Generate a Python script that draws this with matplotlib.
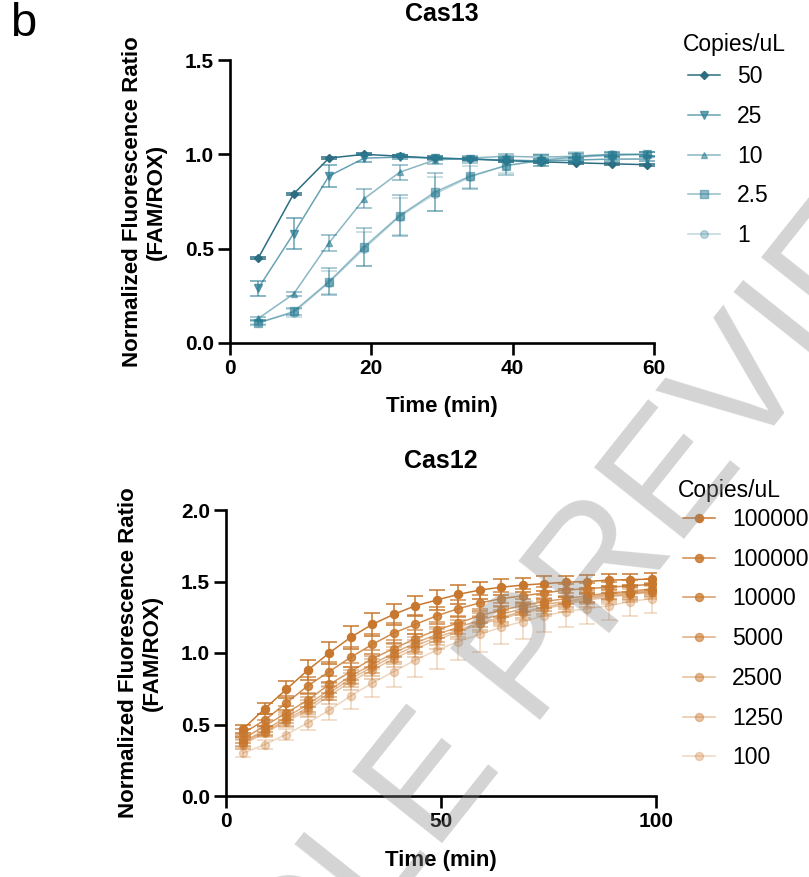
import numpy as np
import matplotlib.pyplot as plt

plt.rcParams['font.family'] = ['Liberation Sans', 'DejaVu Sans']

# Cas13 data
t13 = [4, 9, 14, 19, 24, 29, 34, 39, 44, 49, 54, 59]
labels13 = ['50', '25', '10', '2.5', '1']
y13_50 = [0.45, 0.79, 0.98, 1.00, 0.99, 0.98, 0.975, 0.967, 0.96, 0.955, 0.95, 0.945]
y13_25 = [0.29, 0.58, 0.885, 0.98, 0.985, 0.98, 0.975, 0.97, 0.965, 0.97, 0.975, 0.975]
y13_10 = [0.13, 0.26, 0.53, 0.765, 0.905, 0.97, 0.98, 0.99, 0.985, 0.99, 1.0, 1.0]
y13_2p5 = [0.105, 0.167, 0.325, 0.51, 0.675, 0.80, 0.885, 0.94, 0.967, 0.985, 0.995, 1.0]
y13_1 = [0.11, 0.16, 0.32, 0.50, 0.67, 0.79, 0.88, 0.94, 0.97, 0.99, 1.0, 1.0]
e13_50 = [0.005] * 12
e13_25 = [0.04, 0.08, 0.06, 0.02, 0.01, 0.01, 0.01, 0.01, 0.01, 0.01, 0.01, 0.01]
e13_10 = [0.01, 0.01, 0.04, 0.05, 0.04, 0.02, 0.01, 0.01, 0.01, 0.01, 0.01, 0.01]
e13_2p5 = [0.01, 0.02, 0.07, 0.10, 0.11, 0.10, 0.07, 0.05, 0.03, 0.02, 0.01, 0.01]
e13_1 = [0.01, 0.02, 0.06, 0.09, 0.10, 0.09, 0.06, 0.04, 0.03, 0.02, 0.01, 0.01]

# Cas12 data
t12 = [4, 9, 14, 19, 24, 29, 34, 39, 44, 49, 54, 59, 64, 69, 74, 79, 84, 89, 94, 99]
labels12 = ['100000', '100000', '10000', '5000', '2500', '1250', '100']
y12_a = [0.47, 0.61, 0.745, 0.88, 1.00, 1.11, 1.20, 1.27, 1.33, 1.37, 1.41, 1.44, 1.46, 1.475, 1.485, 1.495, 1.50, 1.51, 1.513, 1.517]
y12_b = [0.44, 0.53, 0.65, 0.77, 0.87, 0.97, 1.06, 1.14, 1.20, 1.26, 1.31, 1.35, 1.38, 1.40, 1.42, 1.44, 1.45, 1.46, 1.47, 1.48]
y12_c = [0.40, 0.49, 0.58, 0.67, 0.78, 0.87, 0.96, 1.03, 1.10, 1.16, 1.21, 1.26, 1.30, 1.33, 1.36, 1.38, 1.40, 1.42, 1.43, 1.45]
y12_d = [0.38, 0.46, 0.55, 0.64, 0.74, 0.84, 0.92, 1.00, 1.07, 1.13, 1.18, 1.23, 1.27, 1.31, 1.34, 1.36, 1.39, 1.41, 1.42, 1.44]
y12_e = [0.37, 0.45, 0.53, 0.62, 0.72, 0.82, 0.90, 0.98, 1.05, 1.11, 1.16, 1.21, 1.25, 1.29, 1.32, 1.35, 1.38, 1.40, 1.41, 1.43]
y12_f = [0.36, 0.44, 0.52, 0.60, 0.70, 0.80, 0.88, 0.96, 1.03, 1.09, 1.15, 1.20, 1.24, 1.28, 1.31, 1.34, 1.37, 1.39, 1.41, 1.43]
y12_g = [0.30, 0.36, 0.43, 0.51, 0.60, 0.70, 0.79, 0.87, 0.95, 1.02, 1.08, 1.13, 1.18, 1.22, 1.26, 1.29, 1.31, 1.33, 1.36, 1.38]
e12_a = [0.03, 0.04, 0.06, 0.07, 0.08, 0.08, 0.08, 0.075, 0.07, 0.07, 0.065, 0.06, 0.055, 0.05, 0.05, 0.045, 0.045, 0.04, 0.04, 0.04]
e12_b = [0.03, 0.04, 0.05, 0.06, 0.07, 0.07, 0.07, 0.07, 0.065, 0.06, 0.06, 0.055, 0.05, 0.05, 0.045, 0.045, 0.04, 0.04, 0.04, 0.04]
e12_c = [0.03, 0.04, 0.05, 0.05, 0.06, 0.06, 0.06, 0.06, 0.06, 0.055, 0.05, 0.05, 0.05, 0.045, 0.045, 0.04, 0.04, 0.04, 0.04, 0.04]
e12_d = [0.03, 0.03, 0.04, 0.05, 0.05, 0.06, 0.06, 0.06, 0.06, 0.055, 0.05, 0.05, 0.05, 0.045, 0.045, 0.04, 0.04, 0.04, 0.04, 0.04]
e12_e = [0.03, 0.03, 0.04, 0.05, 0.05, 0.06, 0.06, 0.06, 0.06, 0.055, 0.05, 0.05, 0.05, 0.045, 0.045, 0.04, 0.04, 0.04, 0.04, 0.04]
e12_f = [0.03, 0.03, 0.04, 0.05, 0.06, 0.06, 0.06, 0.06, 0.06, 0.06, 0.055, 0.05, 0.05, 0.05, 0.05, 0.05, 0.05, 0.05, 0.05, 0.05]
e12_g = [0.03, 0.03, 0.04, 0.05, 0.07, 0.09, 0.10, 0.11, 0.12, 0.13, 0.13, 0.12, 0.12, 0.12, 0.11, 0.11, 0.11, 0.10, 0.10, 0.10]

W, H = 809, 877
fig = plt.figure(figsize=(W / 100, H / 100), dpi=100)

teal = '#2a7c93'
orange = '#c8782e'


def style_axes(ax):
    for s in ['top', 'right']:
        ax.spines[s].set_visible(False)
    for s in ['left', 'bottom']:
        ax.spines[s].set_linewidth(1.9)
    ax.tick_params(width=1.9, length=8.5, pad=3, labelsize=15)
    for lab in ax.get_xticklabels() + ax.get_yticklabels():
        lab.set_fontweight('bold')


# ---- Cas13 ----
ax1 = fig.add_axes([230 / W, 1 - 343 / H, 424 / W, 283 / H])
ys13 = [y13_50, y13_25, y13_10, y13_2p5, y13_1]
es13 = [e13_50, e13_25, e13_10, e13_2p5, e13_1]
mk13 = ['D', 'v', '^', 's', 'o']
ms13 = [4.5, 5.5, 5.0, 5.5, 5.5]
al13 = [1.0, 0.7, 0.55, 0.5, 0.3]
cols13 = ['#2c6d82', teal, teal, teal, teal]
for y, e, m, ms, a, c, lab in zip(ys13, es13, mk13, ms13, al13, cols13, labels13):
    ax1.errorbar(t13, y, yerr=e, fmt='none', ecolor=c, alpha=a, capsize=6, elinewidth=1.1, capthick=1.1)
    ax1.plot(t13, y, marker=m, ms=ms, color=c, alpha=a, lw=1.1, label=lab)
ax1.set_xlim(0, 60)
ax1.set_ylim(0, 1.5)
ax1.set_xticks([0, 20, 40, 60])
ax1.set_yticks([0, 0.5, 1.0, 1.5])
ax1.set_yticklabels(['0.0', '0.5', '1.0', '1.5'])
style_axes(ax1)
ax1.set_title('Cas13', fontsize=18, fontweight='bold', pad=28)
ax1.set_xlabel('Time (min)', fontsize=16, fontweight='bold', labelpad=13)
ax1.set_ylabel('Normalized Fluorescence Ratio\n(FAM/ROX)', fontsize=16, fontweight='bold', labelpad=13)
ax1.legend(loc='upper left', bbox_to_anchor=(1.08, 0.982), frameon=False, fontsize=16.5,
           labelspacing=0.73, handlelength=1.4, handletextpad=0.75, borderaxespad=0, borderpad=0)
fig.text(683 / W, 1 - 45 / H, 'Copies/uL', fontsize=16.5, ha='left', va='center')

# ---- Cas12 ----
ax2 = fig.add_axes([226 / W, 1 - 796 / H, 430 / W, 286 / H])
ys12 = [y12_a, y12_b, y12_c, y12_d, y12_e, y12_f, y12_g]
es12 = [e12_a, e12_b, e12_c, e12_d, e12_e, e12_f, e12_g]
al12 = [1.0, 0.85, 0.75, 0.6, 0.5, 0.42, 0.3]
for y, e, a, lab in zip(ys12, es12, al12, labels12):
    ax2.errorbar(t12, y, yerr=e, fmt='none', ecolor=orange, alpha=a, capsize=6, elinewidth=1.1, capthick=1.1)
    ax2.plot(t12, y, marker='o', ms=5.8, color=orange, alpha=a, lw=1.1, label=lab)
ax2.set_xlim(0, 100)
ax2.set_ylim(0, 2.0)
ax2.set_xticks([0, 50, 100])
ax2.set_yticks([0, 0.5, 1.0, 1.5, 2.0])
ax2.set_yticklabels(['0.0', '0.5', '1.0', '1.5', '2.0'])
style_axes(ax2)
ax2.set_title('Cas12', fontsize=18, fontweight='bold', pad=30)
ax2.set_xlabel('Time (min)', fontsize=16, fontweight='bold', labelpad=14)
ax2.set_ylabel('Normalized Fluorescence Ratio\n(FAM/ROX)', fontsize=16, fontweight='bold', labelpad=13)
ax2.legend(loc='upper left', bbox_to_anchor=(1.063, 1.007), frameon=False, fontsize=16.5,
           labelspacing=0.73, handlelength=1.4, handletextpad=0.75, borderaxespad=0, borderpad=0)
fig.text(678 / W, 1 - 490 / H, 'Copies/uL', fontsize=16.5, ha='left', va='center')

fig.text(10 / W, 1 - 2 / H, 'b', fontsize=34, va='top', ha='left')

# watermark
fig.text(505 / W, 1 - 695 / H, 'ARTICLE PREVIEW', fontsize=120, color='#888888', alpha=0.36,
         rotation=51.5, ha='center', va='center', zorder=10)

fig.savefig('out.png', dpi=100)
